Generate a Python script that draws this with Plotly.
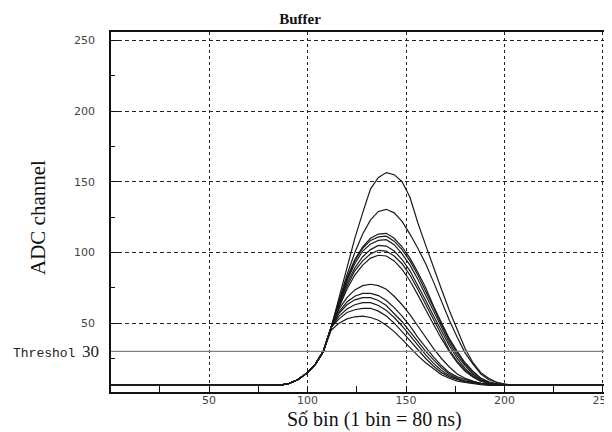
import plotly.graph_objects as go

# ---- data ----
bins = [0, 85, 90, 95, 100, 104, 108, 112, 116, 120, 124, 128, 132, 136, 140,
        144, 148, 152, 156, 160, 164, 168, 172, 176, 180, 184, 188, 192, 196,
        200, 205, 256]

rise = [6, 6, 7, 10, 15, 21, 30, 47]  # shared leading edge (bins 0..112)

pulse_156 = rise + [68, 90, 110, 128, 145, 153, 156.5, 155, 150, 139, 121, 105, 89, 74, 59, 45, 32, 22, 15, 11, 8, 7, 6, 6]
pulse_130 = rise + [66, 84, 100, 113, 123, 129, 130.5, 128, 122, 113, 103, 92, 79, 65, 52, 40, 29, 21, 14, 10, 8, 6.5, 6, 6]
pulse_113 = rise + [65, 82, 95, 104, 110, 113, 113.5, 110, 104, 96, 86, 75, 62, 50, 39, 30, 22, 16, 11, 8.5, 7, 6.5, 6, 6]
pulse_111 = rise + [65, 81, 94, 103, 108.5, 111, 111.5, 108, 102, 94, 84, 73, 61, 49, 38, 29, 21, 15, 11, 8, 7, 6, 6, 6]
pulse_109 = rise + [64, 80, 92, 101, 106, 108.5, 109, 105.5, 99, 91, 81, 70, 58, 47, 36, 27, 20, 14, 10, 8, 7, 6, 6, 6]
pulse_105 = rise + [63, 78, 89, 97, 102, 105, 104.5, 101, 95, 87, 77, 66, 55, 44, 34, 25, 18, 13, 10, 8, 7, 6, 6, 6]
pulse_101 = rise + [62, 76, 87, 94, 99, 101.5, 101, 97.5, 92, 84, 74, 63, 52, 41, 31, 23, 17, 12, 9, 7.5, 6.5, 6, 6, 6]
pulse_98 = rise + [61, 74, 84, 91, 96, 98, 97.5, 94, 88, 80, 70, 59, 49, 39, 30, 22, 16, 12, 9, 7.5, 6.5, 6, 6, 6]
pulse_77 = rise + [60, 68, 73.5, 76.5, 77.5, 76.5, 74, 69, 63, 56, 48, 40, 32, 25, 19, 14, 11, 9, 7.5, 7, 6.5, 6, 6, 6]
pulse_71 = rise + [58, 65, 69, 71, 71, 69.5, 66, 61, 55, 48, 40, 33, 26, 20, 15, 12, 10, 8.5, 7.5, 7, 6.5, 6, 6, 6]
pulse_68 = rise + [57, 63, 66.5, 68, 68, 66, 62.5, 57, 51, 44, 37, 30, 24, 18.5, 14, 11, 9, 8, 7, 6.5, 6, 6, 6, 6]
pulse_64 = rise + [55, 60, 63, 64.5, 64.5, 62.5, 59, 54, 48, 41, 34, 27.5, 21.5, 16.5, 13, 10.5, 9, 8, 7, 6.5, 6, 6, 6, 6]
pulse_60 = rise + [53, 57.5, 59.5, 60.5, 60.5, 58.5, 55, 50, 44, 37.5, 31, 25, 19.5, 15, 12, 10, 8.5, 7.5, 7, 6.5, 6, 6, 6, 6]
pulse_55 = rise[:-1] + [45, 50, 53, 54.5, 55, 54, 52, 48.5, 44, 38.5, 32.5, 27, 22, 17.5, 13.5, 11, 9, 8, 7, 6.5, 6, 6, 6, 6, 6]

pulses = [pulse_156, pulse_130, pulse_113, pulse_111, pulse_109, pulse_105,
          pulse_101, pulse_98, pulse_77, pulse_71, pulse_68, pulse_64,
          pulse_60, pulse_55]

threshold = 30
x_ticks = [50, 100, 150, 200, 250]
y_ticks = [50, 100, 150, 200, 250]

# ---- figure (page body has an 8px margin, so the figure is 604x424) ----
W, H = 604, 424
fig = go.Figure()
for p in pulses:
    fig.add_trace(go.Scatter(x=bins, y=p, mode="lines",
                             line=dict(color="#1a1a1a", width=1.2),
                             showlegend=False, hoverinfo="skip"))

fig.add_shape(type="line", xref="paper", x0=0, x1=1, yref="y",
              y0=threshold, y1=threshold,
              line=dict(color="#808080", width=1.2))

fig.add_annotation(xref="paper", x=0, xanchor="right", xshift=-10,
                   yref="y", y=threshold, yanchor="middle",
                   text=("<span style='font-family:Liberation Mono;font-size:13px'>Threshol</span>"
                         "&nbsp;&nbsp;<span style='font-family:Liberation Serif;font-size:17px'>%d</span>" % threshold),
                   showarrow=False,
                   font=dict(family="Liberation Serif", size=13, color="#222"))

fig.add_annotation(xref="paper", x=0.525, xanchor="center",
                   yref="paper", y=0, yanchor="top", yshift=-14,
                   text="Số bin (1 bin = 80 ns)", showarrow=False,
                   font=dict(family="Liberation Serif", size=20, color="#111"))

fig.add_annotation(xref="paper", x=0, xanchor="center", xshift=-73,
                   yref="paper", y=0.5, yanchor="middle", yshift=-6,
                   textangle=-90,
                   text="ADC channel", showarrow=False,
                   font=dict(family="Liberation Serif", size=21, color="#111"))

fig.update_layout(
    width=W, height=H,
    margin=dict(l=103, r=0, t=24, b=40),
    paper_bgcolor="white", plot_bgcolor="white",
    title=dict(text="<b>Buffer</b>", x=292 / W, xanchor="center",
               y=1 - 10.5 / H, yanchor="middle",
               font=dict(family="Liberation Serif", size=15, color="#111")),
    showlegend=False,
)

fig.update_xaxes(range=[0.2, 254.6], tickvals=x_ticks,
                 showgrid=True, gridcolor="#222", griddash="dot", gridwidth=1,
                 zeroline=False, showline=True, linecolor="#111", linewidth=1.5,
                 mirror=True, ticks="inside", ticklen=6, tickcolor="#111",
                 minor=dict(tickvals=[25, 75, 125, 175, 225], ticks="inside",
                            ticklen=6, tickcolor="#111", showgrid=False),
                 tickfont=dict(family="DejaVu Sans", size=11, color="#444"),
                 ticklabeloverflow="allow", ticklabelstandoff=-3,
                 automargin=False)

fig.update_yaxes(range=[1.3, 255.9], tickvals=y_ticks,
                 showgrid=True, gridcolor="#222", griddash="4px,3px", gridwidth=1,
                 zeroline=False, showline=True, linecolor="#111", linewidth=1.5,
                 mirror=False, ticks="inside", ticklen=7, tickcolor="#111",
                 minor=dict(tickvals=[25, 75, 125, 175, 225], ticks="inside",
                            ticklen=4, tickcolor="#111", showgrid=False),
                 tickfont=dict(family="DejaVu Sans", size=11, color="#444"),
                 ticklabelstandoff=12,
                 automargin=False)

fig.write_html("out.html")
